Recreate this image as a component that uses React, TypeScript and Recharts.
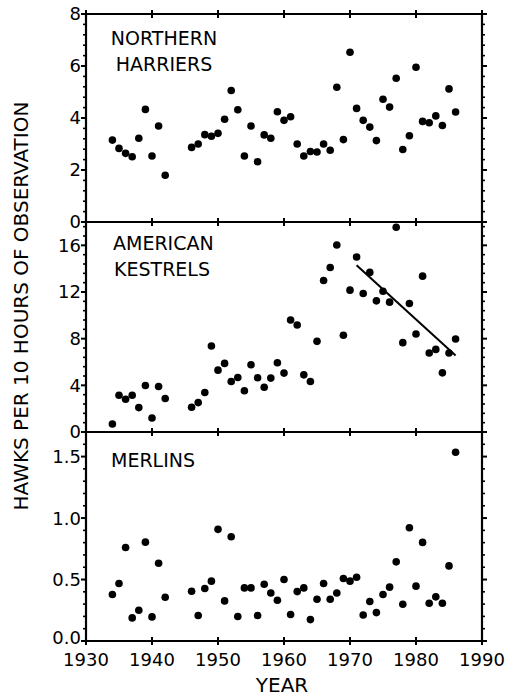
import React from 'react';
import { ComposedChart, Scatter, Line, XAxis, YAxis } from 'recharts';

const years = [
  1934, 1935, 1936, 1937, 1938, 1939, 1940, 1941, 1942,
  1946, 1947, 1948, 1949, 1950, 1951, 1952, 1953, 1954, 1955,
  1956, 1957, 1958, 1959, 1960, 1961, 1962, 1963, 1964, 1965,
  1966, 1967, 1968, 1969, 1970, 1971, 1972, 1973, 1974, 1975,
  1976, 1977, 1978, 1979, 1980, 1981, 1982, 1983, 1984, 1985, 1986,
];

const harriers = [
  3.15, 2.83, 2.64, 2.51, 3.22, 4.33, 2.54, 3.69, 1.8,
  2.87, 3.0, 3.36, 3.3, 3.41, 3.95, 5.06, 4.32, 2.54, 3.69,
  2.32, 3.35, 3.22, 4.24, 3.91, 4.05, 3.0, 2.54, 2.71, 2.69,
  3.0, 2.76, 5.18, 3.17, 6.53, 4.37, 3.91, 3.65, 3.13, 4.72,
  4.42, 5.53, 2.79, 3.32, 5.95, 3.87, 3.82, 4.08, 3.71, 5.12, 4.23,
];

const kestrels = [
  0.69, 3.15, 2.81, 3.15, 2.09, 3.99, 1.2, 3.9, 2.87,
  2.12, 2.52, 3.38, 7.37, 5.3, 5.88, 4.33, 4.67, 3.53, 5.76,
  4.65, 3.84, 4.62, 5.94, 5.05, 9.6, 9.17, 4.9, 4.33, 7.77,
  12.99, 14.1, 16.03, 8.29, 12.16, 15.0, 11.87, 13.68, 11.24, 12.07,
  11.13, 17.55, 7.66, 11.01, 8.4, 13.36, 6.77, 7.08, 5.07, 6.77, 7.97,
];

const merlins = [
  0.378, 0.468, 0.761, 0.188, 0.25, 0.804, 0.196, 0.633, 0.356,
  0.405, 0.207, 0.427, 0.487, 0.908, 0.326, 0.848, 0.199, 0.432, 0.432,
  0.207, 0.462, 0.391, 0.332, 0.5, 0.215, 0.402, 0.432, 0.174, 0.34,
  0.468, 0.34, 0.391, 0.508, 0.487, 0.519, 0.212, 0.321, 0.231, 0.378,
  0.438, 0.644, 0.299, 0.921, 0.446, 0.802, 0.307, 0.359, 0.307, 0.611, 1.535,
];

const kestrelTrendYears = [1971, 1986];
const kestrelTrendValues = [14.3, 6.55];

const xTicks = [1930, 1940, 1950, 1960, 1970, 1980, 1990];
const xTickLabels = ['1930', '1940', '1950', '1960', '1970', '1980', '1990'];

const harrierMajor = [0, 2, 4, 6, 8];
const harrierLabels = ['0', '2', '4', '6', '8'];
const kestrelMajor = [0, 4, 8, 12, 16];
const kestrelLabels = ['0', '4', '8', '12', '16'];
const merlinMajor = [0, 0.5, 1.0, 1.5];
const merlinLabels = ['0.0', '0.5', '1.0', '1.5'];

const FONT = '"DejaVu Sans", Arial, sans-serif';
const W = 515;
const H = 697;
const LEFT = 86;
const RIGHT = 482;

function steps(max: number, step: number): number[] {
  const out: number[] = [];
  for (let i = 0; i * step <= max + 1e-9; i++) out.push(Math.round(i * step * 1000) / 1000);
  return out;
}

const isIn = (arr: number[], v: number) => arr.findIndex((m) => Math.abs(m - v) < 1e-6);

const makeLeftTick = (majors: number[], labels: string[], lowShift: number) => (props: any) => {
  const { x, y, payload } = props;
  const idx = isIn(majors, payload.value);
  const major = idx >= 0;
  const shift = idx === 0 ? lowShift : 0;
  return (
    <g>
      <line x1={x - (major ? 5 : 3)} x2={x} y1={y} y2={y} stroke="#000" strokeWidth={major ? 2 : 1.6} />
      {major && (
        <text x={x - 5} y={y - shift} dy="0.36em" textAnchor="end" fontSize={18} fontFamily={FONT} fill="#000">
          {labels[idx]}
        </text>
      )}
    </g>
  );
};

const makeRightTick = (majors: number[]) => (props: any) => {
  const { x, y, payload } = props;
  const major = isIn(majors, payload.value) >= 0;
  return <line x1={x} x2={x + (major ? 5 : 3)} y1={y} y2={y} stroke="#000" strokeWidth={major ? 2 : 1.6} />;
};

const makeXTick = (withLabels: boolean) => (props: any) => {
  const { x, y, payload } = props;
  const idx = isIn(xTicks, payload.value);
  return (
    <g>
      <line x1={x} x2={x} y1={y - 4} y2={y + 4} stroke="#000" strokeWidth={2} />
      {withLabels && idx >= 0 && (
        <text x={x} y={y + 25} textAnchor="middle" fontSize={18} fontFamily={FONT} fill="#000">
          {xTickLabels[idx]}
        </text>
      )}
    </g>
  );
};

const Dot = (props: any) => {
  const { cx, cy } = props;
  if (cx == null || cy == null) return null;
  return <circle cx={cx} cy={cy} r={3.8} fill="#000" />;
};

type PanelProps = {
  values: number[];
  max: number;
  majors: number[];
  labels: string[];
  minorStep: number;
  top: number;
  bottom: number;
  xLabels: boolean;
  lowShift?: number;
  trend?: { x: number; y: number }[];
};

function Panel({ values, max, majors, labels, minorStep, top, bottom, xLabels, lowShift = 0, trend }: PanelProps) {
  const data = years.map((yr, i) => ({ x: yr, y: values[i] }));
  const yTicks = steps(max, minorStep);
  const axisLine = { stroke: '#000', strokeWidth: 2.2 };
  return (
    <div style={{ position: 'absolute', left: 0, top: 0, width: W, height: H, pointerEvents: 'none' }}>
      <ComposedChart
        width={W}
        height={H}
        data={data}
        margin={{ top: top - 1, right: W - RIGHT - 1, bottom: H - bottom - 1, left: LEFT - 60 }}
      >
        <XAxis
          xAxisId="b"
          type="number"
          dataKey="x"
          domain={[1930, 1990]}
          ticks={xTicks}
          interval={0}
          height={1}
          tickSize={0}
          tickMargin={0}
          axisLine={axisLine}
          tickLine={false}
          tick={makeXTick(xLabels)}
          allowDataOverflow
        />
        <XAxis
          xAxisId="t"
          orientation="top"
          type="number"
          dataKey="x"
          domain={[1930, 1990]}
          ticks={xTicks}
          interval={0}
          height={1}
          tickSize={0}
          tickMargin={0}
          axisLine={axisLine}
          tickLine={false}
          tick={makeXTick(false)}
          allowDataOverflow
        />
        <YAxis
          yAxisId="l"
          type="number"
          domain={[0, max]}
          ticks={yTicks}
          interval={0}
          width={60}
          tickSize={0}
          tickMargin={0}
          axisLine={axisLine}
          tickLine={false}
          tick={makeLeftTick(majors, labels, lowShift)}
          allowDataOverflow
        />
        <YAxis
          yAxisId="r"
          orientation="right"
          type="number"
          domain={[0, max]}
          ticks={yTicks}
          interval={0}
          width={1}
          tickSize={0}
          tickMargin={0}
          axisLine={axisLine}
          tickLine={false}
          tick={makeRightTick(majors)}
          allowDataOverflow
        />
        <Scatter
          xAxisId="b"
          yAxisId="l"
          data={data}
          dataKey="y"
          shape={Dot}
          isAnimationActive={false}
        />
        {trend && (
          <Line
            xAxisId="b"
            yAxisId="l"
            data={trend}
            dataKey="y"
            type="linear"
            stroke="#000"
            strokeWidth={2}
            dot={false}
            activeDot={false}
            isAnimationActive={false}
          />
        )}
      </ComposedChart>
    </div>
  );
}

export default function App() {
  const trend = kestrelTrendYears.map((yr, i) => ({ x: yr, y: kestrelTrendValues[i] }));
  return (
    <div style={{ position: 'absolute', left: 0, top: 0, width: W, height: H, background: '#fff' }}>
      <Panel values={harriers} max={8} majors={harrierMajor} labels={harrierLabels} minorStep={0.4} top={14} bottom={222} xLabels={false} />
      <Panel values={kestrels} max={18} majors={kestrelMajor} labels={kestrelLabels} minorStep={0.8} top={222} bottom={432} xLabels={false} trend={trend} />
      <Panel values={merlins} max={1.7} majors={merlinMajor} labels={merlinLabels} minorStep={0.1} top={432} bottom={641} xLabels={true} lowShift={3} />
      <svg width={W} height={H} style={{ position: 'absolute', left: 0, top: 0, pointerEvents: 'none' }}>
        <g fontFamily={FONT} fill="#000">
          <text x={164} y={45} textAnchor="middle" fontSize={19}>NORTHERN</text>
          <text x={164} y={71} textAnchor="middle" fontSize={19}>HARRIERS</text>
          <text x={113} y={250} textAnchor="start" fontSize={19}>AMERICAN</text>
          <text x={114} y={276} textAnchor="start" fontSize={19}>KESTRELS</text>
          <text x={111} y={467} textAnchor="start" fontSize={19}>MERLINS</text>
          <text x={282} y={692} textAnchor="middle" fontSize={20}>YEAR</text>
          <text transform="translate(28,306) rotate(-90)" textAnchor="middle" fontSize={20}>
            HAWKS PER 10 HOURS OF OBSERVATION
          </text>
        </g>
      </svg>
    </div>
  );
}
